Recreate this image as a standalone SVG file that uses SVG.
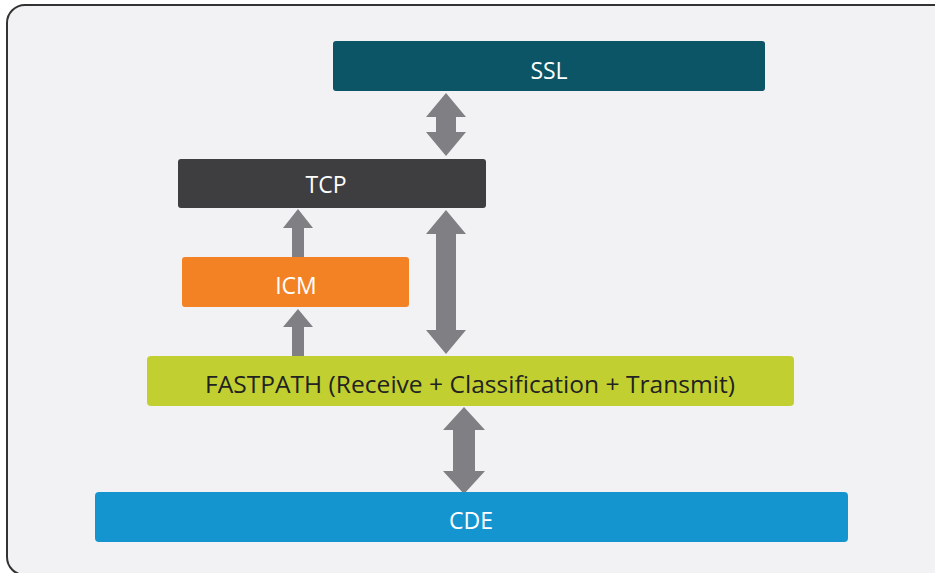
<svg xmlns="http://www.w3.org/2000/svg" width="935" height="573" viewBox="0 0 935 573">
  <defs>
    <style>
      .box { stroke: none; }
      .lbl { font-family: "Open Sans", "Liberation Sans", Arial, sans-serif; font-size: 23px; text-anchor: middle; dominant-baseline: central; fill: #ffffff; }
      .dark { fill: #222222; }
      .arrow { fill: #808084; }
    </style>
  </defs>
  <rect x="0" y="0" width="935" height="573" fill="#ffffff"/>
  <!-- outer frame -->
  <rect x="7" y="5" width="950" height="570" rx="18" ry="18" fill="#f2f2f4" stroke="#333333" stroke-width="2"/>

  <!-- connectors -->
  <g id="connectors" class="arrow">
    <!-- SSL <-> TCP -->
    <polygon points="446,93 466,117 456,117 456,132 466,132 446,156 426,132 436,132 436,117 426,117"/>
    <!-- TCP <-> FASTPATH -->
    <polygon points="446,210 466,234 456,234 456,330 466,330 446,354 426,330 436,330 436,234 426,234"/>
    <!-- ICM -> TCP -->
    <polygon points="298,209 313,228 304,228 304,257 292,257 292,228 283,228"/>
    <!-- FASTPATH -> ICM -->
    <polygon points="298,309 313,327 304,327 304,356 292,356 292,327 283,327"/>
    <!-- FASTPATH <-> CDE -->
    <polygon points="464,407 485,430 475,430 475,471 485,471 464,494 443,471 453,471 453,430 443,430"/>
  </g>

  <g id="ssl">
    <rect class="box" x="333" y="41" width="432" height="50" rx="3" fill="#0b5566"/>
    <text class="lbl" x="549" y="70">SSL</text>
  </g>
  <g id="tcp">
    <rect class="box" x="178" y="159" width="308" height="49" rx="3" fill="#3e3e40"/>
    <text class="lbl" x="326" y="184">TCP</text>
  </g>
  <g id="icm">
    <rect class="box" x="182" y="257" width="227" height="50" rx="3" fill="#f38225"/>
    <text class="lbl" x="296" y="285">ICM</text>
  </g>
  <g id="fastpath">
    <rect class="box" x="147" y="356" width="647" height="50" rx="4" fill="#c1d030"/>
    <text class="lbl dark" x="470" y="384" textLength="530" lengthAdjust="spacingAndGlyphs">FASTPATH (Receive + Classification + Transmit)</text>
  </g>
  <g id="cde">
    <rect class="box" x="95" y="492" width="753" height="50" rx="4" fill="#1595d0"/>
    <text class="lbl" x="471" y="520">CDE</text>
  </g>
</svg>
